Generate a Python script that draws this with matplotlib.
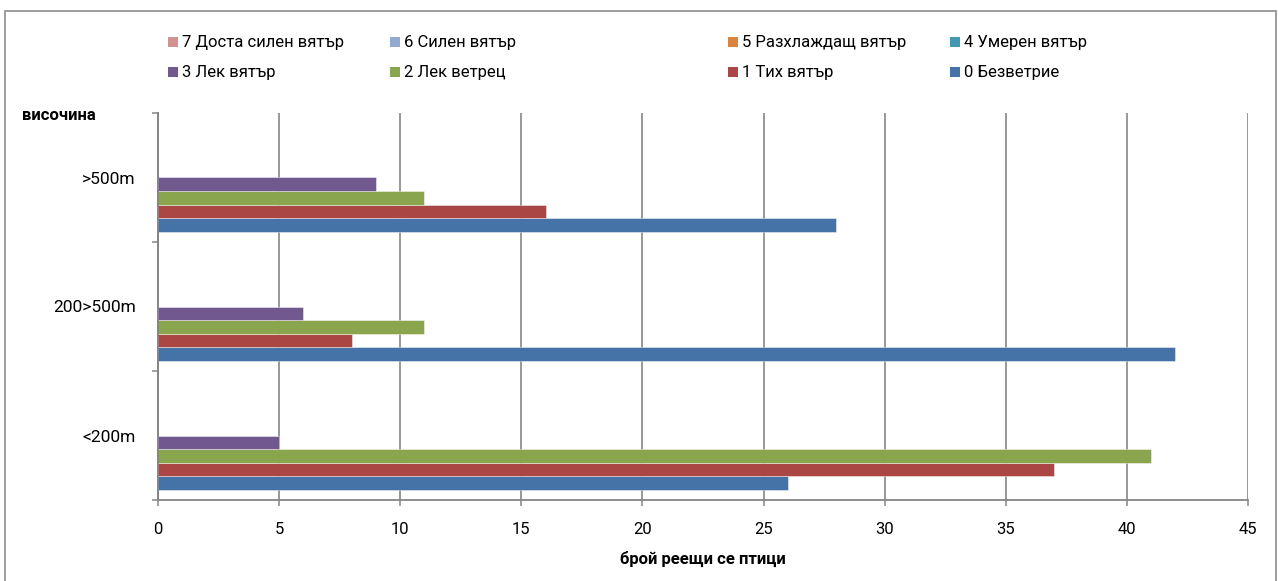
import numpy as np
import matplotlib
matplotlib.use("Agg")
import matplotlib.pyplot as plt
from matplotlib.patches import Rectangle

# ---------- DATA ----------
heights = ["<200m", "200>500m", ">500m"]
series_names = ["0 Безветрие", "1 Тих вятър", "2 Лек ветрец", "3 Лек вятър",
                "4 Умерен вятър", "5 Разхлаждащ вятър", "6 Силен вятър",
                "7 Доста силен вятър"]
calm = [26, 42, 28]
light_air = [37, 8, 16]
light_breeze = [41, 11, 11]
gentle_breeze = [5, 6, 9]
moderate = [0, 0, 0]
fresh = [0, 0, 0]
strong = [0, 0, 0]
near_gale = [0, 0, 0]
values = [calm, light_air, light_breeze, gentle_breeze,
          moderate, fresh, strong, near_gale]
colors = ["#4572A7", "#AA4643", "#89A54E", "#71588F",
          "#4198AF", "#DB843D", "#93A9CF", "#D19392"]
x_ticks = [0, 5, 10, 15, 20, 25, 30, 35, 40, 45]

plt.rcParams['font.family'] = ['Roboto', 'DejaVu Sans']

W, H = 1278, 581
fig = plt.figure(figsize=(W / 100, H / 100), dpi=100)

# outer chart frame
fig.add_artist(Rectangle((5 / W, -0.1), (1276 - 5) / W, 1.1 - 11 / H,
                         transform=fig.transFigure, fill=False,
                         edgecolor="#8c8c8c", lw=1.2))

ax = fig.add_axes([158 / W, 1 - 500 / H, (1248 - 158) / W, (500 - 113) / H])

grid_c = "#868686"
n = len(values)
h = 1 / (n + 1.5)
y = np.arange(len(heights))
for i, (vals, col) in enumerate(zip(values, colors)):
    vals = np.asarray(vals)
    pos = y - 0.5 + h * (1.25 + i)
    keep = vals > 0   # empty classes leave their slot blank
    ax.barh(pos[keep], vals[keep], height=h, color=col,
            edgecolor=(1, 1, 1, 0.5), linewidth=0.6, zorder=3)

ax.set_xlim(0, 45)
ax.set_ylim(-0.5, len(heights) - 0.5)
ax.set_xticks(x_ticks)
ax.tick_params(axis="x", length=4.5, width=1.1, color=grid_c, pad=11,
               labelsize=12)
ax.grid(axis="x", color=grid_c, lw=1.2, zorder=1)
ax.axvline(0, color=grid_c, lw=1.4, zorder=6, clip_on=False)

ax.set_yticks(np.arange(-0.5, len(heights)), labels=[])
ax.set_yticks(y, labels=heights, minor=True)
ax.tick_params(axis="y", which="major", length=4, width=1.1, color=grid_c)
ax.tick_params(axis="y", which="minor", length=0, pad=16, labelsize=12.5)

for s in ["top", "right"]:
    ax.spines[s].set_visible(False)
for s in ["left", "bottom"]:
    ax.spines[s].set_color(grid_c)
    ax.spines[s].set_linewidth(1.3)
    ax.spines[s].set_zorder(5)

ax.set_xlabel("брой реещи се птици", fontweight="bold", fontsize=12,
              labelpad=10)
fig.text(22 / W, 1 - 115 / H, "височина", fontweight="bold", fontsize=12,
         ha="left", va="center")

# legend: two rows, four columns, highest class first
leg_x = [168, 390, 728, 950]
leg_y = [42, 72]
order = [7, 6, 5, 4, 3, 2, 1, 0]
for k, idx in enumerate(order):
    px = leg_x[k % 4]
    py = leg_y[k // 4]
    fig.add_artist(Rectangle((px / W, 1 - (py + 5) / H), 10 / W, 10 / H,
                             transform=fig.transFigure,
                             facecolor=colors[idx], edgecolor="none"))
    fig.text((px + 14) / W, 1 - py / H, series_names[idx], fontsize=12,
             ha="left", va="center")

fig.savefig("out.png", dpi=100)
